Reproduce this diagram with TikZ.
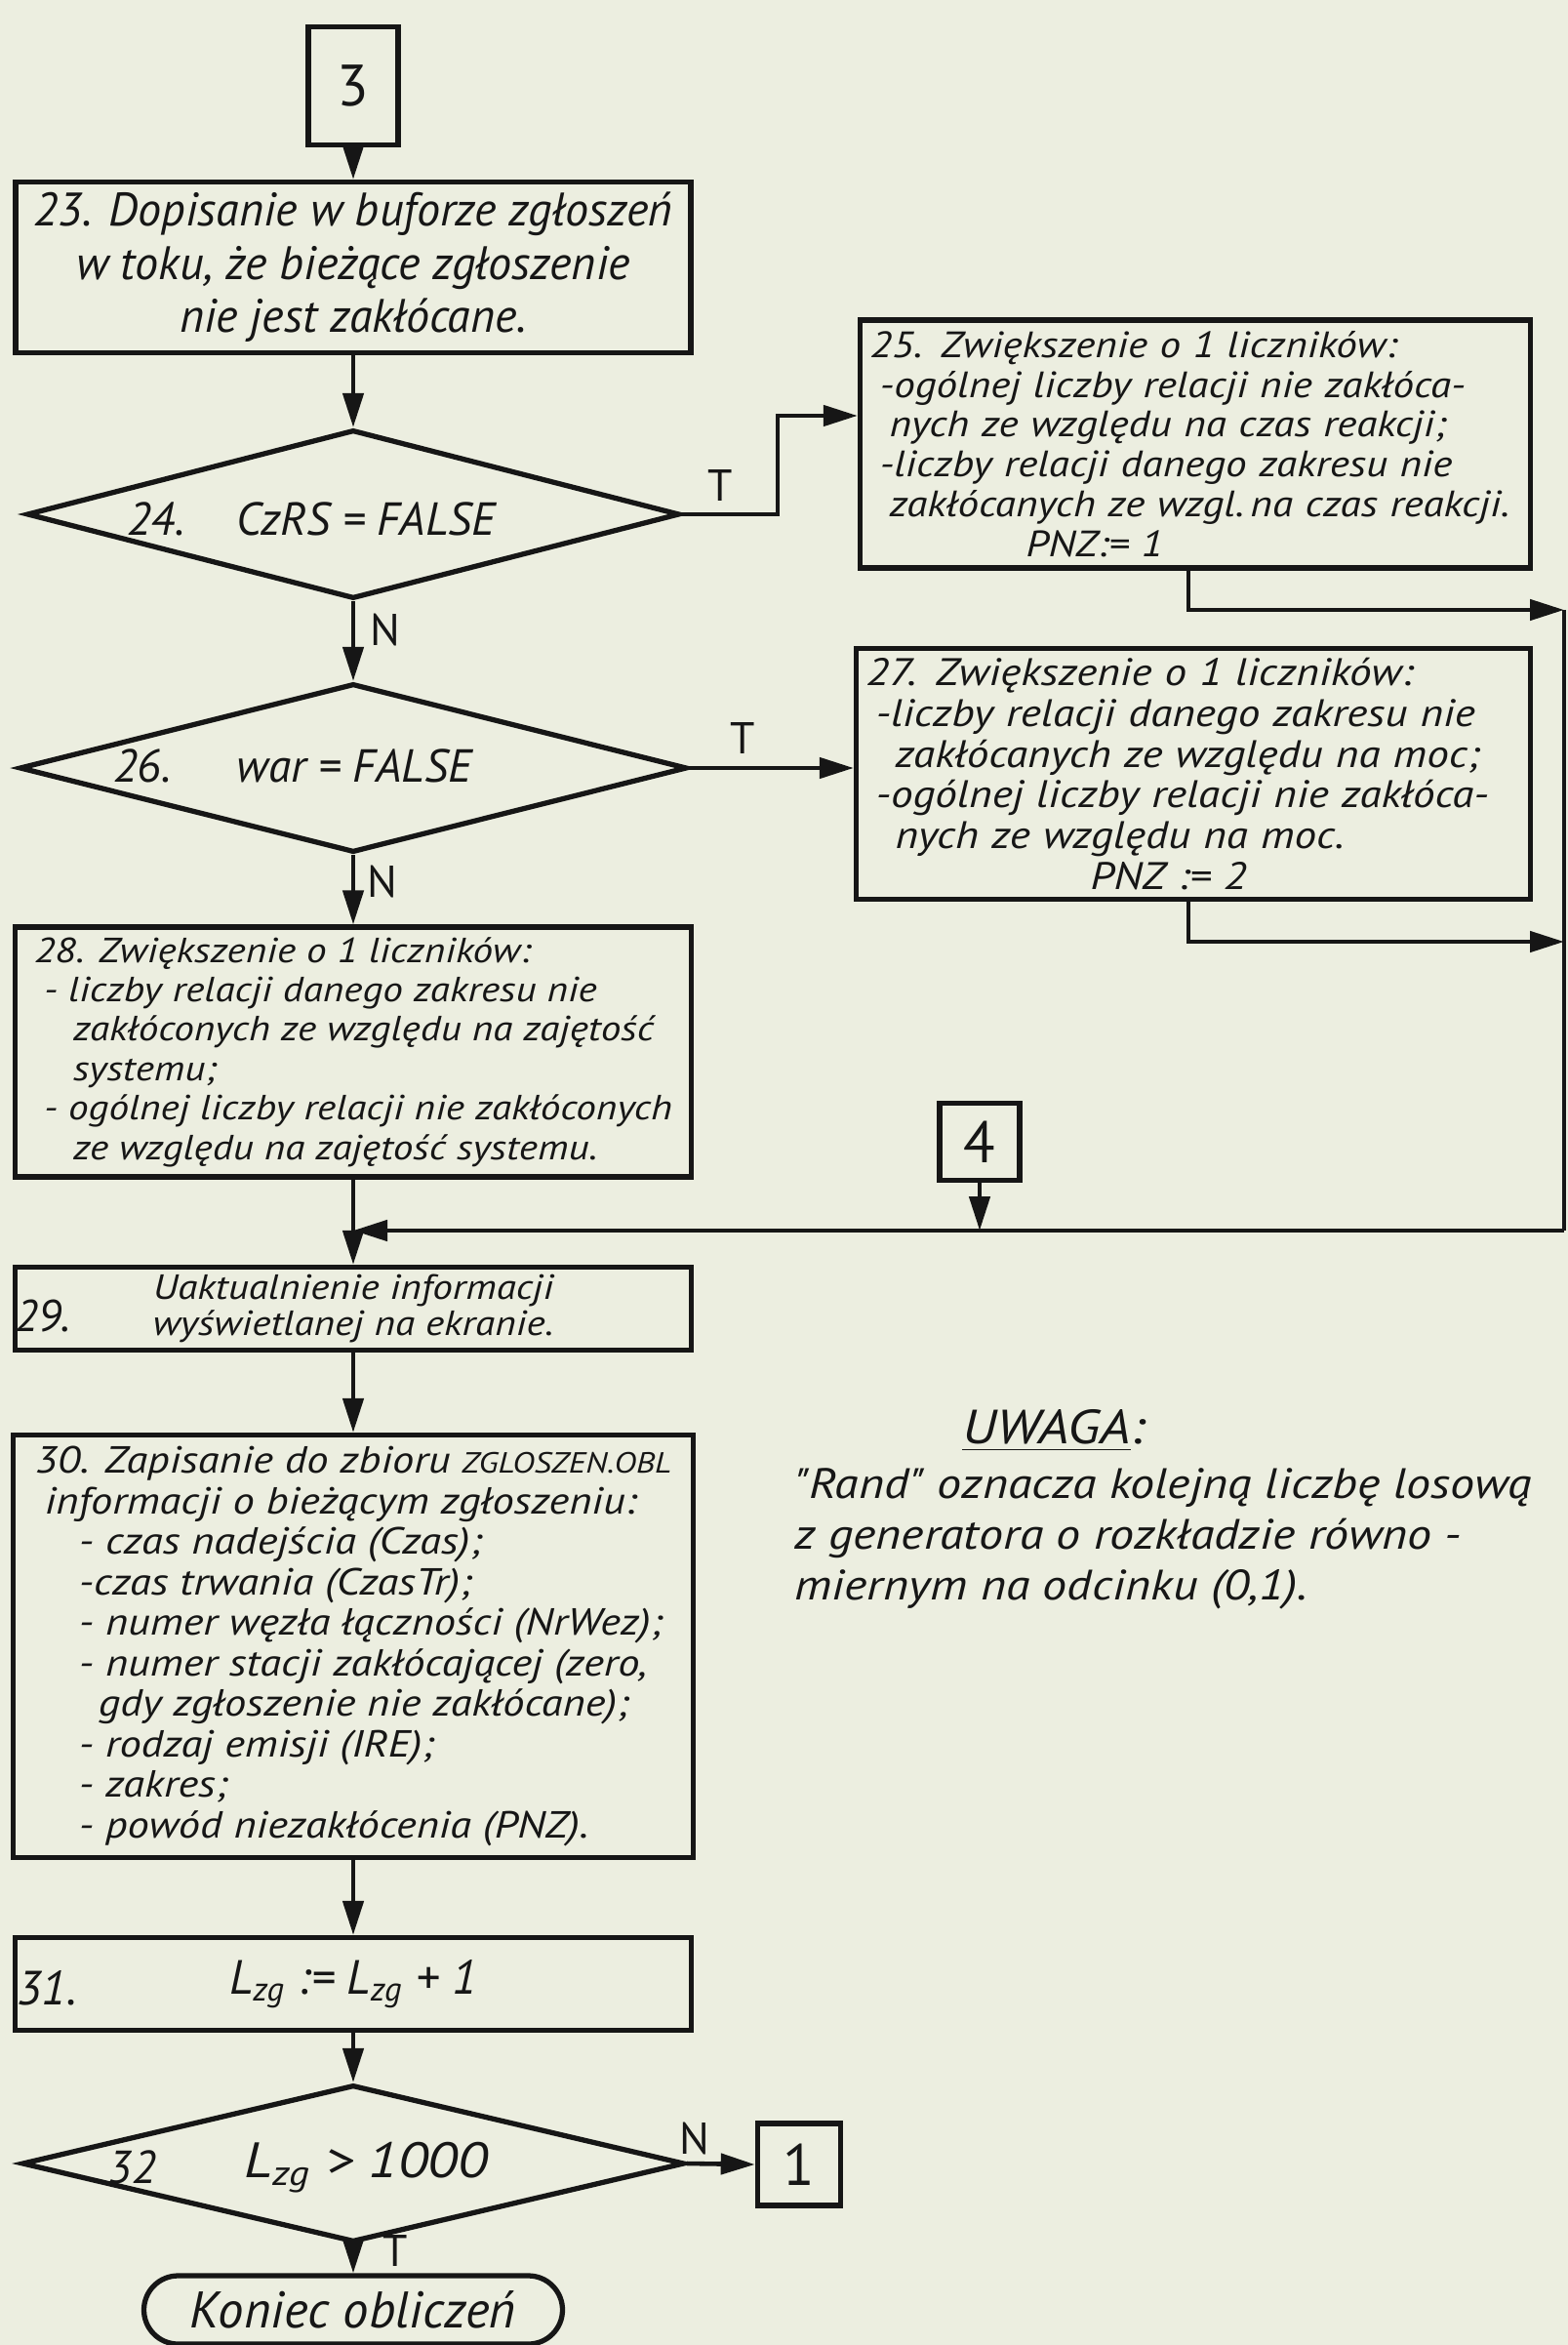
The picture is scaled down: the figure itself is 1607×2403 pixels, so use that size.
\documentclass[tikz,border=0pt]{standalone}
\usepackage{fontspec}
\setmainfont{PT Sans}[Ligatures=TeXOff]
\newfontfamily\wide{PT Sans}[Ligatures=TeXOff,FakeStretch=1.15]
\usetikzlibrary{arrows.meta,shapes.geometric}
\definecolor{paper}{RGB}{236,238,224}
\definecolor{ink}{RGB}{22,22,22}

\begin{document}
\begin{tikzpicture}[x=0.1mm,y=-0.1mm,
	every node/.style={text=ink,font=\itshape},
	box/.style={draw=ink,line width=1.5pt,align=left,inner xsep=0.1cm,inner ysep=0pt},
	dec/.style={draw=ink,line width=1.5pt,diamond,inner sep=0pt},
	conn/.style={draw=ink,line width=1.6pt,inner sep=0pt,font=\upshape\fontsize{17}{17}\selectfont},
	arr/.style={draw=ink,line width=1.3pt,-{Triangle[length=0.35cm,width=0.21cm]}},
	lin/.style={draw=ink,line width=1.3pt},
	lbl/.style={font=\upshape\fontsize{13}{13}\selectfont},
	dtxt/.style={font=\itshape\fontsize{13.5}{14}\selectfont}]
	\fill[paper] (0,0) rectangle (1607,2403);
	\useasboundingbox (0,0) rectangle (1607,2403);
	\node[conn,minimum width=0.92cm,minimum height=1.21cm] (b3) at (362,88) {3};
	\node[box,align=center,minimum width=6.92cm,minimum height=1.75cm,font=\itshape\fontsize{13.7}{15.5}\selectfont] (b23) at (362,274) {23. Dopisanie w buforze zgłoszeń\\w toku, że bieżące zgłoszenie\\nie jest zakłócane.};
	\node[dec,minimum width=6.69cm,minimum height=1.73cm] (d24) at (362,527) {};
	\node[dtxt] (n24) at (160,532) {24.};
	\node[dtxt] (c24) at (375,532) {CzRS = FALSE};
	\node[dec,minimum width=6.84cm,minimum height=1.73cm] (d26) at (362,787) {};
	\node[dtxt] (n26) at (146,785) {26.};
	\node[dtxt] (c26) at (363,785) {war = FALSE};
	\node[box,text width=6.67cm,minimum height=2.54cm,font=\wide\itshape\fontsize{10.7}{11.6}\selectfont] (b25) at (1225,455) {25. Zwiększenie o 1 liczników:\\
		\hspace*{0.1cm}-ogólnej liczby relacji nie zakłóca-\\
		\hspace*{0.2cm}nych ze względu na czas reakcji;\\
		\hspace*{0.1cm}-liczby relacji danego zakresu nie\\
		\hspace*{0.2cm}zakłócanych ze wzgl.\,na czas reakcji.\\
		\hspace*{1.6cm}PNZ:= 1};
	\node[box,text width=6.71cm,minimum height=2.57cm,font=\wide\itshape\fontsize{11.2}{11.9}\selectfont] (b27) at (1223,793) {27. Zwiększenie o 1 liczników:\\
		\hspace*{0.1cm}-liczby relacji danego zakresu nie\\
		\hspace*{0.3cm}zakłócanych ze względu na moc;\\
		\hspace*{0.1cm}-ogólnej liczby relacji nie zakłóca-\\
		\hspace*{0.3cm}nych ze względu na moc.\\
		\hspace*{2.3cm}PNZ := 2};
	\node[box,minimum width=6.93cm,minimum height=2.56cm,font=\wide\itshape\fontsize{10.2}{11.5}\selectfont] (b28) at (362,1078) {28. Zwiększenie o 1 liczników:\\
		\hspace*{0.1cm}- liczby relacji danego zakresu nie\\
		\hspace*{0.4cm}zakłóconych ze względu na zajętość\\
		\hspace*{0.4cm}systemu;\\
		\hspace*{0.1cm}- ogólnej liczby relacji nie zakłóconych\\
		\hspace*{0.4cm}ze względu na zajętość systemu.};
	\node[conn,minimum width=0.82cm,minimum height=0.79cm] (b4) at (1004,1170) {4};
	\node[box,align=center,minimum width=6.93cm,minimum height=0.85cm,font=\wide\itshape\fontsize{10.2}{10.6}\selectfont] (b29) at (362,1341) {Uaktualnienie informacji\\wyświetlanej na ekranie.};
	\node[font=\itshape\fontsize{13}{13}\selectfont] (n29) at (44,1348) {29.};
	\node[box,minimum width=6.97cm,minimum height=4.33cm,font=\wide\itshape\fontsize{11}{11.8}\selectfont] (b30) at (362,1687) {30. Zapisanie do zbioru {\fontsize{8.5}{8.5}\selectfont ZGLOSZEN.OBL}\\
		\hspace*{0.1cm}informacji o bieżącym zgłoszeniu:\\
		\hspace*{0.45cm}- czas nadejścia (Czas);\\
		\hspace*{0.45cm}-czas trwania (CzasTr);\\
		\hspace*{0.45cm}- numer węzła łączności (NrWez);\\
		\hspace*{0.45cm}- numer stacji zakłócającej (zero,\\
		\hspace*{0.65cm}gdy zgłoszenie nie zakłócane);\\
		\hspace*{0.45cm}- rodzaj emisji (IRE);\\
		\hspace*{0.45cm}- zakres;\\
		\hspace*{0.45cm}- powód niezakłócenia (PNZ).};
	\node[box,align=center,minimum width=6.93cm,minimum height=0.95cm,font=\itshape\fontsize{14}{14}\selectfont] (b31) at (362,2033) {L\textsubscript{zg} := L\textsubscript{zg} + 1};
	\node[font=\itshape\fontsize{14}{14}\selectfont] (n31) at (48,2037) {31.};
	\node[dec,minimum width=6.79cm,minimum height=1.61cm] (d32) at (362,2217) {};
	\node[dtxt] (n32) at (135,2221) {32};
	\node[dtxt,font=\wide\itshape\fontsize{14.5}{15}\selectfont] (c32) at (375,2221) {L\textsubscript{zg} > 1000};
	\node[conn,minimum width=0.85cm,minimum height=0.84cm] (b1) at (819,2218) {1};
	\node[draw=ink,line width=1.5pt,rounded corners=0.35cm,minimum width=4.29cm,minimum height=0.7cm,font=\itshape\fontsize{15}{15}\selectfont] (end) at (362,2367) {Koniec obliczeń};
	\node[font=\wide\itshape\fontsize{14}{14}\selectfont] (uw) at (1080,1466) {\underline{UWAGA}:};
	\node[anchor=west,align=left,font=\wide\itshape\fontsize{12.4}{14.8}\selectfont] (note) at (802,1577) {"Rand" oznacza kolejną liczbę losową\\z generatora o rozkładzie równo -\\miernym na odcinku (0,1).};
	\coordinate (k24) at (797,426);
	\coordinate (k25) at (1218,625);
	\coordinate (k27) at (1218,965);
	\coordinate (rgt) at (1603,1261);
	\coordinate (mrg) at (362,1261);
	\draw[arr] (b3.south) -- (b23.north);
	\draw[arr] (b23.south) -- (d24.north);
	\draw[arr] (d24.south) -- (d26.north);
	\draw[arr] (d26.south) -- (b28.north);
	\draw[arr] (b28.south) -- (b29.north);
	\draw[arr] (b29.south) -- (b30.north);
	\draw[arr] (b30.south) -- (b31.north);
	\draw[arr] (b31.south) -- (d32.north);
	\draw[arr] (d32.south) -- (end.north);
	\draw[arr] (d32.east) -- (b1.west);
	\draw[arr] (d24.east) -| (k24) -- (k24 -| b25.west);
	\draw[arr] (d26.east) -- (d26.east -| b27.west);
	\draw[arr] (k25 |- b25.south) -- (k25) -- (k25 -| rgt);
	\draw[arr] (k27 |- b27.south) -- (k27) -- (k27 -| rgt);
	\draw[lin] (k25 -| rgt) -- (rgt);
	\draw[arr] (rgt) -- (mrg);
	\draw[arr] (b4.south) -- (b4.south |- mrg);
	\node[lbl] (t24) at (738,498) {T};
	\node[lbl] (m24) at (395,646) {N};
	\node[lbl] (t26) at (761,757) {T};
	\node[lbl] (m26) at (392,904) {N};
	\node[lbl] (m32) at (712,2191) {N};
	\node[lbl] (t32) at (405,2306) {T};
\end{tikzpicture}
\end{document}
